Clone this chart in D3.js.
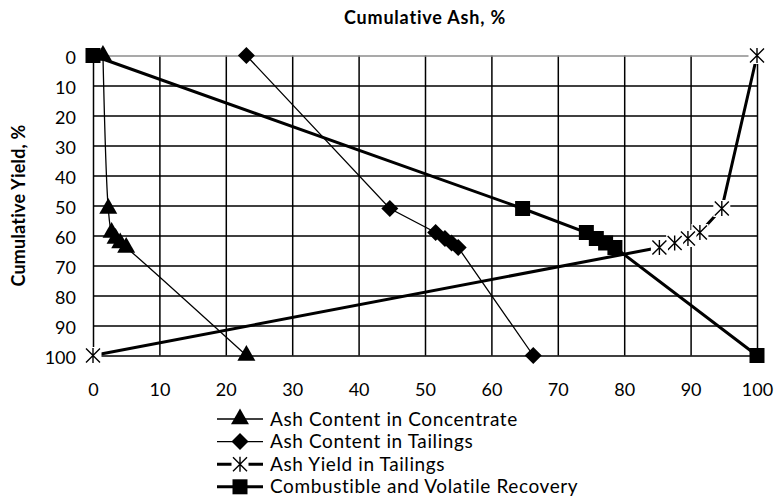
<!DOCTYPE html>
<html>
<head>
<meta charset="utf-8">
<script src="https://cdn.jsdelivr.net/npm/d3@7"></script>
<style>
body { margin: 0; background: #fff; }
svg text { font-family: Lato, "Open Sans", sans-serif; fill: #000; }
</style>
</head>
<body>
<div id="chart"></div>
<script>
// cumulative yield, % (shared by all four series)
var yields = [0, 51, 59, 61, 62.5, 64, 100];
var ashConcentrate = [1.5, 2.3, 2.8, 3.4, 4.1, 5.0, 23.1];
var ashTailings = [23.1, 44.7, 51.6, 53.0, 54.0, 55.0, 66.3];
var yieldTailings = [100, 94.7, 91.4, 89.6, 87.6, 85.3, 0];
var recovery = [0, 64.7, 74.3, 75.8, 77.2, 78.6, 100];
var tickValues = [0, 10, 20, 30, 40, 50, 60, 70, 80, 90, 100];
var seriesNames = ["Ash Content in Concentrate", "Ash Content in Tailings",
    "Ash Yield in Tailings", "Combustible and Volatile Recovery"];

var w = 775, h = 499;
var plotLeft = 93, plotRight = 757, plotTop = 55.5, plotBottom = 355.5;

var x = d3.scaleLinear().domain([0, 100]).range([plotLeft, plotRight]);
var y = d3.scaleLinear().domain([0, 100]).range([plotTop, plotBottom]);

var svg = d3.select("#chart").append("svg")
    .attr("width", w)
    .attr("height", h);

// gridlines + tick labels
var gx = svg.append("g")
    .attr("transform", "translate(0," + plotBottom + ")")
    .call(d3.axisBottom(x).tickValues(tickValues).tickSize(-(plotBottom - plotTop)).tickPadding(28));
var gy = svg.append("g")
    .attr("transform", "translate(" + plotLeft + ",0)")
    .call(d3.axisLeft(y).tickValues(tickValues).tickSize(-(plotRight - plotLeft)).tickPadding(17));

[gx, gy].forEach(function (g) {
    g.select(".domain").remove();
    g.selectAll("line").attr("stroke", "#000").attr("stroke-width", 1.5);
    g.selectAll("text").style("font-size", "18px").attr("fill", "#000");
});
gy.selectAll("text").attr("dy", "0.45em");
gy.selectAll(".tick").filter(function (d) { return d === 0; })
    .select("line").attr("stroke", "#8c8c8c");

// markers
var triangle = d3.symbol().type(d3.symbolTriangle).size(140)();
var diamond = d3.symbol().type(d3.symbolSquare).size(145)();
var square = d3.symbol().type(d3.symbolSquare).size(225)();
var asterisk = "M-7,-7L7,7M-7,7L7,-7M0,-7.5L0,7.5";

function drawMarker(g, type) {
    if (type === "triangle") {
        g.append("path").attr("d", triangle).attr("fill", "#000");
    } else if (type === "diamond") {
        g.append("path").attr("d", diamond).attr("fill", "#000").attr("transform", "rotate(45)");
    } else if (type === "square") {
        g.append("path").attr("d", square).attr("fill", "#000");
    } else {
        g.append("rect").attr("x", -8.5).attr("y", -8.5).attr("width", 17).attr("height", 17).attr("fill", "#fff");
        g.append("path").attr("d", asterisk).attr("stroke", "#000").attr("stroke-width", 1.4).attr("fill", "none");
    }
}

var series = [
    {name: seriesNames[0], values: ashConcentrate, marker: "triangle", width: 1.3, curve: d3.curveCatmullRom.alpha(0.5)},
    {name: seriesNames[1], values: ashTailings, marker: "diamond", width: 1.3, curve: d3.curveLinear},
    {name: seriesNames[2], values: yieldTailings, marker: "asterisk", width: 3, curve: d3.curveLinear},
    {name: seriesNames[3], values: recovery, marker: "square", width: 3, curve: d3.curveLinear}
];

series.forEach(function (s) {
    var pts = s.values.map(function (v, i) { return [v, yields[i]]; });
    var line = d3.line()
        .x(function (d) { return x(d[0]); })
        .y(function (d) { return y(d[1]); })
        .curve(s.curve);
    svg.append("path")
        .attr("d", line(pts))
        .attr("fill", "none")
        .attr("stroke", "#000")
        .attr("stroke-width", s.width);
    pts.forEach(function (d) {
        var m = svg.append("g").attr("transform", "translate(" + x(d[0]) + "," + y(d[1]) + ")");
        drawMarker(m, s.marker);
    });
});

// titles
svg.append("text")
    .attr("x", (plotLeft + plotRight) / 2)
    .attr("y", 24)
    .attr("text-anchor", "middle")
    .style("font-size", "18px")
    .style("font-weight", "bold")
    .style("letter-spacing", "0.8px")
    .text("Cumulative Ash, %");

svg.append("text")
    .attr("transform", "translate(25," + (plotTop + plotBottom) / 2 + ") rotate(-90)")
    .attr("text-anchor", "middle")
    .style("font-size", "18px")
    .style("font-weight", "bold")
    .style("letter-spacing", "0.2px")
    .text("Cumulative Yield, %");

// legend
series.forEach(function (s, i) {
    var g = svg.append("g").attr("transform", "translate(217," + (419 + i * 22.6) + ")");
    g.append("line").attr("x1", 0).attr("x2", 46)
        .attr("stroke", "#000").attr("stroke-width", s.width);
    drawMarker(g.append("g").attr("transform", "translate(23,0)"), s.marker);
    g.append("text").attr("x", 53).attr("y", 6.5)
        .style("font-size", "19px")
        .style("letter-spacing", "0.6px")
        .text(s.name);
});
</script>
</body>
</html>
